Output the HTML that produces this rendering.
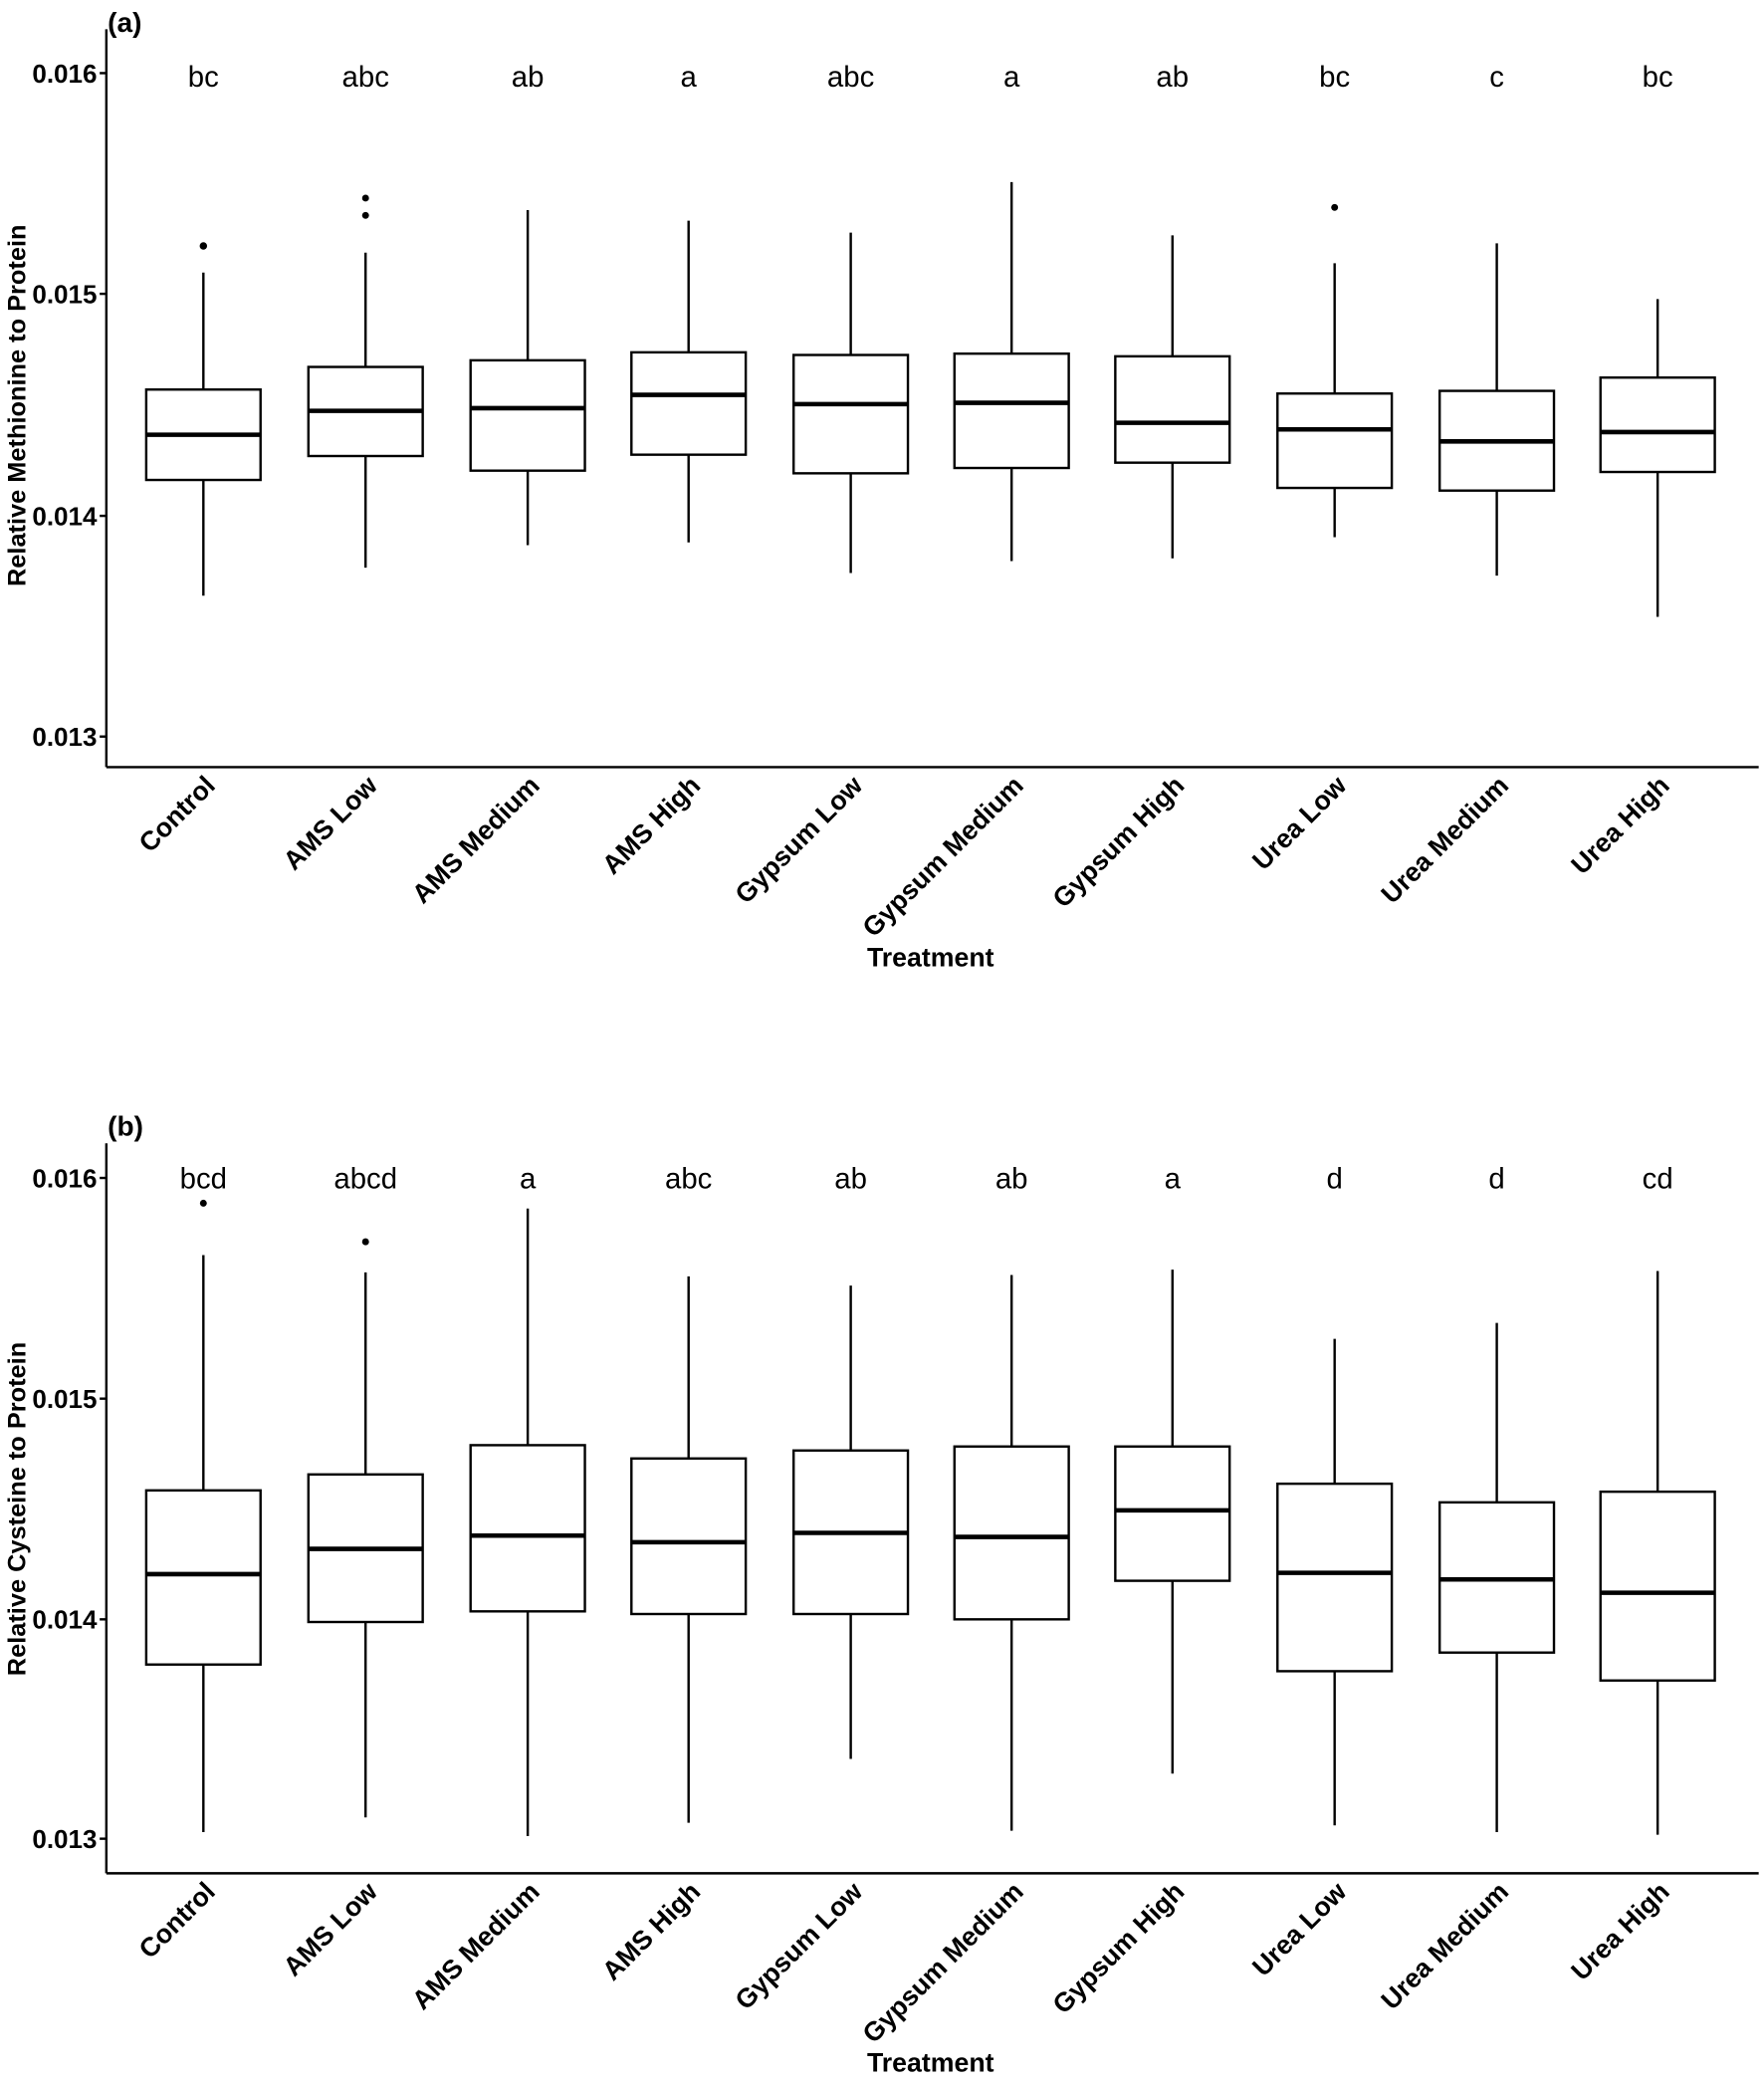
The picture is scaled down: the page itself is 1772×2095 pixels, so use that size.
<!DOCTYPE html>
<html><head><meta charset="utf-8"><style>html,body{margin:0;padding:0;background:#fff}svg{display:block}</style></head>
<body>
<svg width="1772" height="2095" viewBox="0 0 1327 1569" preserveAspectRatio="none" xmlns="http://www.w3.org/2000/svg" font-family="Liberation Sans, Arial, sans-serif">
<rect width="1327" height="1569" fill="#fff"/>
<g stroke="#000" fill="none" stroke-width="1.8">
<line x1="80" y1="22" x2="80" y2="577"/>
<line x1="80" y1="577" x2="1323" y2="577"/>
<line x1="75" y1="55" x2="80" y2="55"/><line x1="75" y1="221" x2="80" y2="221"/><line x1="75" y1="388" x2="80" y2="388"/><line x1="75" y1="554" x2="80" y2="554"/>
<line x1="80" y1="860" x2="80" y2="1409"/>
<line x1="80" y1="1409" x2="1323" y2="1409"/>
<line x1="75" y1="886" x2="80" y2="886"/><line x1="75" y1="1052" x2="80" y2="1052"/><line x1="75" y1="1218" x2="80" y2="1218"/><line x1="75" y1="1383" x2="80" y2="1383"/>
</g>
<g stroke="#000" fill="#fff" stroke-width="1.8">
<line x1="153" y1="205" x2="153" y2="448"/><rect x="110" y="293" width="86" height="68"/><line x1="110" y1="327" x2="196" y2="327" stroke-width="3.4"/>
<line x1="275" y1="190" x2="275" y2="427"/><rect x="232" y="276" width="86" height="67"/><line x1="232" y1="309" x2="318" y2="309" stroke-width="3.4"/>
<line x1="397" y1="158" x2="397" y2="410"/><rect x="354" y="271" width="86" height="83"/><line x1="354" y1="307" x2="440" y2="307" stroke-width="3.4"/>
<line x1="518" y1="166" x2="518" y2="408"/><rect x="475" y="265" width="86" height="77"/><line x1="475" y1="297" x2="561" y2="297" stroke-width="3.4"/>
<line x1="640" y1="175" x2="640" y2="431"/><rect x="597" y="267" width="86" height="89"/><line x1="597" y1="304" x2="683" y2="304" stroke-width="3.4"/>
<line x1="761" y1="137" x2="761" y2="422"/><rect x="718" y="266" width="86" height="86"/><line x1="718" y1="303" x2="804" y2="303" stroke-width="3.4"/>
<line x1="882" y1="177" x2="882" y2="420"/><rect x="839" y="268" width="86" height="80"/><line x1="839" y1="318" x2="925" y2="318" stroke-width="3.4"/>
<line x1="1004" y1="198" x2="1004" y2="404"/><rect x="961" y="296" width="86" height="71"/><line x1="961" y1="323" x2="1047" y2="323" stroke-width="3.4"/>
<line x1="1126" y1="183" x2="1126" y2="433"/><rect x="1083" y="294" width="86" height="75"/><line x1="1083" y1="332" x2="1169" y2="332" stroke-width="3.4"/>
<line x1="1247" y1="225" x2="1247" y2="464"/><rect x="1204" y="284" width="86" height="71"/><line x1="1204" y1="325" x2="1290" y2="325" stroke-width="3.4"/>
<line x1="153" y1="944" x2="153" y2="1378"/><rect x="110" y="1121" width="86" height="131"/><line x1="110" y1="1184" x2="196" y2="1184" stroke-width="3.4"/>
<line x1="275" y1="957" x2="275" y2="1367"/><rect x="232" y="1109" width="86" height="111"/><line x1="232" y1="1165" x2="318" y2="1165" stroke-width="3.4"/>
<line x1="397" y1="909" x2="397" y2="1381"/><rect x="354" y="1087" width="86" height="125"/><line x1="354" y1="1155" x2="440" y2="1155" stroke-width="3.4"/>
<line x1="518" y1="960" x2="518" y2="1371"/><rect x="475" y="1097" width="86" height="117"/><line x1="475" y1="1160" x2="561" y2="1160" stroke-width="3.4"/>
<line x1="640" y1="967" x2="640" y2="1323"/><rect x="597" y="1091" width="86" height="123"/><line x1="597" y1="1153" x2="683" y2="1153" stroke-width="3.4"/>
<line x1="761" y1="959" x2="761" y2="1377"/><rect x="718" y="1088" width="86" height="130"/><line x1="718" y1="1156" x2="804" y2="1156" stroke-width="3.4"/>
<line x1="882" y1="955" x2="882" y2="1334"/><rect x="839" y="1088" width="86" height="101"/><line x1="839" y1="1136" x2="925" y2="1136" stroke-width="3.4"/>
<line x1="1004" y1="1007" x2="1004" y2="1373"/><rect x="961" y="1116" width="86" height="141"/><line x1="961" y1="1183" x2="1047" y2="1183" stroke-width="3.4"/>
<line x1="1126" y1="995" x2="1126" y2="1378"/><rect x="1083" y="1130" width="86" height="113"/><line x1="1083" y1="1188" x2="1169" y2="1188" stroke-width="3.4"/>
<line x1="1247" y1="956" x2="1247" y2="1380"/><rect x="1204" y="1122" width="86" height="142"/><line x1="1204" y1="1198" x2="1290" y2="1198" stroke-width="3.4"/>
</g>
<g fill="#000">
<circle cx="153" cy="185" r="2.8"/><circle cx="275" cy="149" r="2.6"/><circle cx="275" cy="162" r="2.6"/><circle cx="1004" cy="156" r="2.6"/>
<circle cx="153" cy="905" r="2.6"/><circle cx="275" cy="934" r="2.6"/>
</g>
<g font-size="19.5" font-weight="bold" text-anchor="end">
<text x="73" y="62">0.016</text><text x="73" y="228">0.015</text><text x="73" y="395">0.014</text><text x="73" y="561">0.013</text>
<text x="73" y="893">0.016</text><text x="73" y="1059">0.015</text><text x="73" y="1225">0.014</text><text x="73" y="1390">0.013</text>
</g>
<g font-size="21" font-weight="bold">
<text x="81" y="24">(a)</text><text x="81" y="854">(b)</text>
</g>
<g font-size="22" text-anchor="middle">
<text x="153" y="65">bc</text><text x="275" y="65">abc</text><text x="397" y="65">ab</text><text x="518" y="65">a</text><text x="640" y="65">abc</text><text x="761" y="65">a</text><text x="882" y="65">ab</text><text x="1004" y="65">bc</text><text x="1126" y="65">c</text><text x="1247" y="65">bc</text>
<text x="153" y="894">bcd</text><text x="275" y="894">abcd</text><text x="397" y="894">a</text><text x="518" y="894">abc</text><text x="640" y="894">ab</text><text x="761" y="894">ab</text><text x="882" y="894">a</text><text x="1004" y="894">d</text><text x="1126" y="894">d</text><text x="1247" y="894">cd</text>
</g>
<g font-size="20" font-weight="bold" text-anchor="end">
<text transform="translate(163,592) rotate(-45)">Control</text>
<text transform="translate(285,592) rotate(-45)">AMS Low</text>
<text transform="translate(407,592) rotate(-45)">AMS Medium</text>
<text transform="translate(528,592) rotate(-45)">AMS High</text>
<text transform="translate(650,592) rotate(-45)">Gypsum Low</text>
<text transform="translate(771,592) rotate(-45)">Gypsum Medium</text>
<text transform="translate(892,592) rotate(-45)">Gypsum High</text>
<text transform="translate(1014,592) rotate(-45)">Urea Low</text>
<text transform="translate(1136,592) rotate(-45)">Urea Medium</text>
<text transform="translate(1257,592) rotate(-45)">Urea High</text>
<text transform="translate(163,1424) rotate(-45)">Control</text>
<text transform="translate(285,1424) rotate(-45)">AMS Low</text>
<text transform="translate(407,1424) rotate(-45)">AMS Medium</text>
<text transform="translate(528,1424) rotate(-45)">AMS High</text>
<text transform="translate(650,1424) rotate(-45)">Gypsum Low</text>
<text transform="translate(771,1424) rotate(-45)">Gypsum Medium</text>
<text transform="translate(892,1424) rotate(-45)">Gypsum High</text>
<text transform="translate(1014,1424) rotate(-45)">Urea Low</text>
<text transform="translate(1136,1424) rotate(-45)">Urea Medium</text>
<text transform="translate(1257,1424) rotate(-45)">Urea High</text>
</g>
<g font-size="20" font-weight="bold" text-anchor="middle">
<text x="700" y="727">Treatment</text>
<text x="700" y="1558">Treatment</text>
<text transform="translate(19,305) rotate(-90)" font-size="19">Relative Methionine to Protein</text>
<text transform="translate(19,1135) rotate(-90)" font-size="19">Relative Cysteine to Protein</text>
</g>
</svg>
</body></html>
